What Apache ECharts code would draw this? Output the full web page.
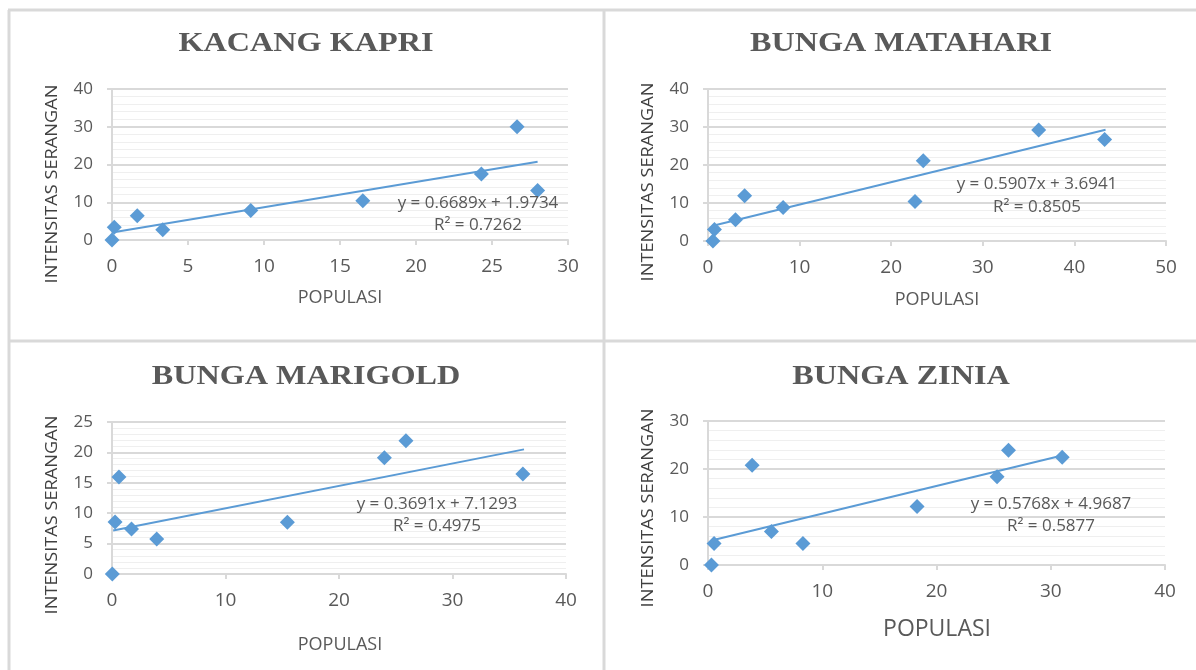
<!DOCTYPE html>
<html><head><meta charset="utf-8">
<script src="https://cdn.jsdelivr.net/npm/echarts@6/dist/echarts.min.js"></script>
<style>html,body{margin:0;padding:0;background:#fff}#c{width:1196px;height:670px}</style>
</head><body><div id="c"></div>
<script>
// ---- data ----
const titles = ['KACANG KAPRI', 'BUNGA MATAHARI', 'BUNGA MARIGOLD', 'BUNGA ZINIA'];
const xAxisTitle = 'POPULASI';
const yAxisTitle = 'INTENSITAS SERANGAN';

const kapriX = [0.0, 0.15, 1.66, 3.34, 9.13, 16.5, 24.3, 26.65, 28.0];
const kapriY = [0.0, 3.4, 6.4, 2.7, 7.8, 10.4, 17.5, 30.0, 13.1];
const matahariX = [0.54, 0.7, 3.0, 4.0, 8.2, 22.6, 23.5, 36.1, 43.3];
const matahariY = [0.0, 3.0, 5.6, 11.9, 8.8, 10.4, 21.1, 29.2, 26.7];
const marigoldX = [0.03, 0.27, 0.61, 1.72, 3.94, 15.45, 24.0, 25.9, 36.2];
const marigoldY = [0.0, 8.55, 15.95, 7.4, 5.76, 8.5, 19.1, 21.9, 16.45];
const ziniaX = [0.3, 0.53, 3.86, 5.55, 8.31, 18.3, 25.3, 26.3, 31.0];
const ziniaY = [0.0, 4.5, 20.8, 7.0, 4.5, 12.2, 18.4, 23.9, 22.45];

// trendline end points
const trendKapri = [[0.0, 1.97], [28.0, 20.7]];
const trendMatahari = [[0.54, 4.0], [43.4, 29.3]];
const trendMarigold = [[0.1, 7.17], [36.3, 20.5]];
const trendZinia = [[0.3, 5.1], [31.0, 22.8]];

const equations = ['y = 0.6689x + 1.9734', 'y = 0.5907x + 3.6941', 'y = 0.3691x + 7.1293', 'y = 0.5768x + 4.9687'];
const rSquared = ['R\u00B2 = 0.7262', 'R\u00B2 = 0.8505', 'R\u00B2 = 0.4975', 'R\u00B2 = 0.5877'];

const xMax = [30, 50, 40, 40];
const xInterval = [5, 10, 10, 10];
const yMax = [40, 40, 25, 30];
const yInterval = [10, 10, 5, 10];

// ---- layout ----
const grids = [
  {left: 112, right: 628, top: 89, bottom: 430},
  {left: 708, right: 30, top: 89, bottom: 429},
  {left: 112, right: 630, top: 422, bottom: 96},
  {left: 708, right: 31, top: 421, bottom: 105}
];
const panelCenterX = [306, 901, 306, 901];
const titleY = [44, 44, 377, 377];
const yTitlePos = [[52, 184], [648, 182], [52, 515], [648, 508]];
const xTitlePos = [[340, 298], [937, 300], [340, 645], [937, 629]];
const xTitleSize = [18, 18, 18, 23];
const eqPos = [[478, 203, 225], [1037, 184, 207], [437, 504, 526], [1051, 504, 526]];

const blue = '#5b9bd5';
const grey = '#595959';
const lineGrey = '#d9d9d9';

const xs = [kapriX, matahariX, marigoldX, ziniaX];
const ys = [kapriY, matahariY, marigoldY, ziniaY];
const trends = [trendKapri, trendMatahari, trendMarigold, trendZinia];

const xAxes = [], yAxes = [], series = [], graphics = [];
for (let i = 0; i < 4; i++) {
  xAxes.push({
    type: 'value', gridIndex: i, min: 0, max: xMax[i], interval: xInterval[i],
    axisLine: {show: true, lineStyle: {color: lineGrey, width: 2}},
    axisTick: {show: true, length: 5, lineStyle: {color: lineGrey, width: 2}},
    axisLabel: {color: grey, fontSize: 19, fontFamily: 'Open Sans', margin: 17},
    splitLine: {show: false}
  });
  yAxes.push({
    type: 'value', gridIndex: i, min: 0, max: yMax[i], interval: yInterval[i],
    axisLine: {show: true, lineStyle: {color: lineGrey, width: 2}},
    axisTick: {show: true, length: 5, lineStyle: {color: lineGrey, width: 2}},
    axisLabel: {color: grey, fontSize: 17, fontFamily: 'Open Sans', margin: 19},
    splitLine: {show: true, lineStyle: {color: lineGrey, width: 2}},
    minorTick: {show: false, splitNumber: 5},
    minorSplitLine: {show: true, lineStyle: {color: '#efefef', width: 1}}
  });
  const pts = xs[i].map((x, k) => [x, ys[i][k]]);
  series.push({
    type: 'line', xAxisIndex: i, yAxisIndex: i, data: trends[i],
    showSymbol: false, symbol: 'none', lineStyle: {color: blue, width: 2}, z: 3, silent: true
  });
  series.push({
    type: 'scatter', xAxisIndex: i, yAxisIndex: i, data: pts,
    symbol: 'diamond', symbolSize: 15, itemStyle: {color: blue, opacity: 1}, z: 4
  });
  graphics.push({
    type: 'text', x: panelCenterX[i], y: titleY[i], scaleX: 1.15,
    style: {text: titles[i], fill: grey, fontFamily: 'Liberation Serif', fontWeight: 'bold', fontSize: 28,
      align: 'center', verticalAlign: 'middle'}
  });
  graphics.push({
    type: 'text', x: yTitlePos[i][0], y: yTitlePos[i][1], rotation: Math.PI / 2, scaleX: 1.07,
    style: {text: yAxisTitle, fill: '#404040', fontFamily: 'Open Sans', fontSize: 17,
      align: 'center', verticalAlign: 'middle'}
  });
  graphics.push({
    type: 'text', x: xTitlePos[i][0], y: xTitlePos[i][1],
    style: {text: xAxisTitle, fill: grey, fontFamily: 'Open Sans', fontSize: xTitleSize[i],
      align: 'center', verticalAlign: 'middle'}
  });
  graphics.push({
    type: 'text', x: eqPos[i][0], y: eqPos[i][1],
    style: {text: equations[i], fill: grey, fontFamily: 'Open Sans', fontSize: 17,
      align: 'center', verticalAlign: 'middle'}, z: 10
  });
  graphics.push({
    type: 'text', x: eqPos[i][0], y: eqPos[i][2],
    style: {text: rSquared[i], fill: grey, fontFamily: 'Open Sans', fontSize: 17,
      align: 'center', verticalAlign: 'middle'}, z: 10
  });
}
// panel frame lines
const frame = [
  [[8, 10], [1196, 10]],
  [[9, 10], [9, 670]],
  [[604, 10], [604, 670]],
  [[8, 341], [1196, 341]]
];
frame.forEach(f => graphics.push({
  type: 'line', shape: {x1: f[0][0], y1: f[0][1], x2: f[1][0], y2: f[1][1]},
  style: {stroke: lineGrey, lineWidth: 3}, silent: true
}));

const chart = echarts.init(document.getElementById('c'));
chart.setOption({
  animation: false,
  backgroundColor: '#ffffff',
  grid: grids,
  xAxis: xAxes,
  yAxis: yAxes,
  series: series,
  graphic: graphics
});
</script>
</body></html>
